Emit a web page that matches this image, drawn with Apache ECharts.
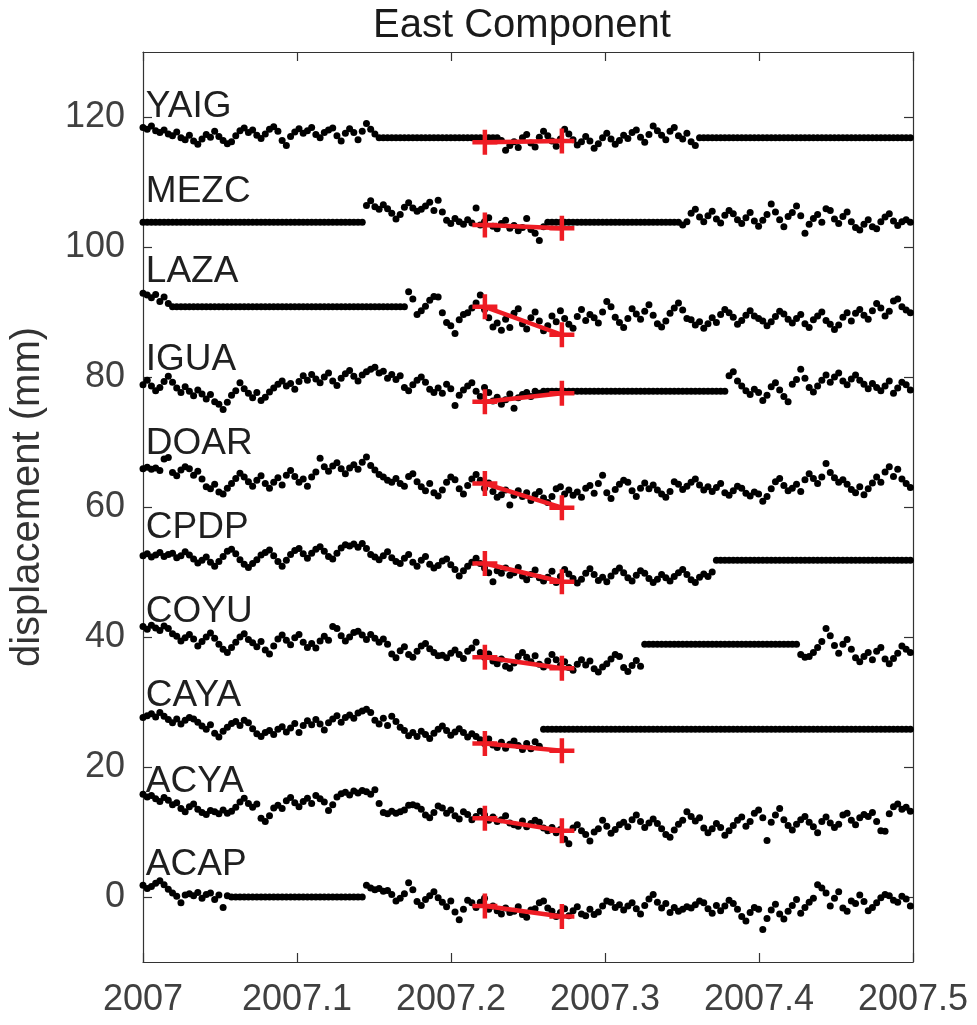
<!DOCTYPE html>
<html>
<head>
<meta charset="utf-8">
<script src="https://cdn.jsdelivr.net/npm/echarts@6/dist/echarts.min.js"></script>
<style>html,body{margin:0;padding:0;background:#fff}#c{width:977px;height:1025px}</style>
</head>
<body>
<div id="c"></div>
<script>
// ---- data ----
const T0 = 2007;
const DAYS_PER_YEAR = 365.25;
const stations = ['YAIG','MEZC','LAZA','IGUA','DOAR','CPDP','COYU','CAYA','ACYA','ACAP'];
const xTicks = [2007, 2007.1, 2007.2, 2007.3, 2007.4, 2007.5];
const yTicks = [0, 20, 40, 60, 80, 100, 120];

const YAIG = [118.4,118.1,118.6,117.9,117.6,118.0,117.4,117.1,117.7,116.8,
116.5,117.2,116.3,115.8,116.6,117.3,116.9,117.8,117.0,116.4,
115.9,116.2,117.1,117.9,118.3,117.6,118.0,117.2,116.7,117.4,
118.1,118.5,117.8,116.4,115.6,117.0,117.7,118.2,117.5,117.9,
118.4,117.3,116.8,117.6,118.0,118.3,117.1,116.3,117.5,118.2,
117.6,116.5,117.8,119.0,118.1,117.4,
116.8,116.8,116.8,116.8,116.8,116.8,116.8,116.8,116.8,116.8,
116.8,116.8,116.8,116.8,116.8,116.8,116.8,116.8,116.8,116.8,
116.8,116.8,116.8,116.8,116.8,116.8,116.8,116.8,116.8,
116.4,114.9,115.6,116.2,115.3,116.8,117.3,116.0,115.4,116.9,
117.8,117.1,116.3,115.5,116.6,118.1,117.4,116.5,115.7,116.2,
117.0,116.3,115.2,115.9,116.8,117.5,116.6,115.8,116.4,117.2,
116.7,117.6,118.0,116.9,116.1,117.3,118.6,117.9,117.2,116.5,
117.8,118.4,117.1,116.6,117.5,116.2,115.6,
116.8,116.8,116.8,116.8,116.8,116.8,116.8,116.8,116.8,116.8,
116.8,116.8,116.8,116.8,116.8,116.8,116.8,116.8,116.8,116.8,
116.8,116.8,116.8,116.8,116.8,116.8,116.8,116.8,116.8,116.8,
116.8,116.8,116.8,116.8,116.8,116.8,116.8,116.8,116.8,116.8,
116.8,116.8,116.8,116.8,116.8,116.8,116.8,116.8,116.8,116.8,
116.8];

const MEZC = [103.8,103.8,103.8,103.8,103.8,103.8,103.8,103.8,103.8,103.8,
103.8,103.8,103.8,103.8,103.8,103.8,103.8,103.8,103.8,103.8,
103.8,103.8,103.8,103.8,103.8,103.8,103.8,103.8,103.8,103.8,
103.8,103.8,103.8,103.8,103.8,103.8,103.8,103.8,103.8,103.8,
103.8,103.8,103.8,103.8,103.8,103.8,103.8,103.8,103.8,103.8,
103.8,103.8,103.8,
106.4,107.1,106.2,105.8,106.5,105.9,105.2,104.3,105.0,106.1,
106.8,106.0,105.5,105.8,106.3,106.9,105.6,107.2,105.4,104.1,
103.6,104.4,103.9,103.5,104.2,103.7,106.0,103.4,103.9,104.5,
103.2,102.8,103.6,104.1,102.9,103.3,102.5,103.0,104.4,102.7,
102.1,101.0,103.1,
103.8,103.8,103.8,103.8,103.8,103.8,103.8,103.8,103.8,103.8,
103.8,103.8,103.8,103.8,103.8,103.8,103.8,103.8,103.8,103.8,
103.8,103.8,103.8,103.8,103.8,103.8,103.8,103.8,103.8,103.8,
103.8,103.8,
103.4,103.9,105.2,105.8,104.6,103.9,104.8,105.5,104.3,103.7,
104.9,105.6,105.1,104.2,103.6,104.5,105.3,104.0,103.2,104.1,
105.0,106.6,105.4,104.2,103.1,104.7,105.3,106.3,104.8,102.1,
103.5,104.4,105.0,103.8,105.9,105.6,104.3,103.6,104.7,105.4,
103.9,103.0,102.6,103.5,104.2,103.1,102.8,103.9,104.6,105.1,
104.0,103.3,103.9,104.2,103.8];

const LAZA = [92.9,92.6,92.2,92.7,91.6,92.3,91.3,
90.8,90.8,90.8,90.8,90.8,90.8,90.8,90.8,90.8,90.8,
90.8,90.8,90.8,90.8,90.8,90.8,90.8,90.8,90.8,90.8,
90.8,90.8,90.8,90.8,90.8,90.8,90.8,90.8,90.8,90.8,
90.8,90.8,90.8,90.8,90.8,90.8,90.8,90.8,90.8,90.8,
90.8,90.8,90.8,90.8,90.8,90.8,90.8,90.8,90.8,90.8,
90.8,90.8,90.8,90.8,90.8,90.8,
93.1,92.0,89.6,90.2,90.9,91.8,92.4,92.3,89.9,88.4,
87.9,86.7,88.8,89.6,89.9,90.6,91.4,92.6,90.4,89.1,
87.7,88.3,87.2,88.9,87.6,89.8,90.5,88.2,87.4,89.1,
90.0,88.6,87.1,87.9,89.4,88.5,90.2,89.0,88.1,87.5,
89.3,90.4,88.7,89.6,89.1,88.3,90.0,91.6,90.8,89.2,
88.4,87.6,89.0,90.5,89.7,88.9,90.1,91.1,89.5,88.2,
87.7,88.6,89.8,90.6,91.4,90.3,89.0,88.8,88.0,88.5,
87.5,88.2,89.1,88.4,89.6,90.4,89.9,89.2,88.1,88.7,
89.5,90.2,89.4,89.0,88.6,87.9,88.5,89.3,90.1,89.7,
88.9,88.3,89.0,89.6,88.2,87.6,88.8,89.4,90.0,88.7,
88.1,87.3,88.0,89.2,89.9,88.6,89.8,90.4,89.5,88.9,
90.2,91.3,90.6,89.4,90.1,91.7,92.0,90.8,90.3,89.9];

const IGUA = [78.8,79.5,78.6,77.9,78.4,79.3,80.1,79.2,78.3,77.6,
78.5,77.8,77.1,78.0,77.4,76.6,77.3,76.2,75.8,75.0,
76.1,77.2,77.9,79.1,78.2,77.5,76.8,77.6,76.4,76.9,
77.7,78.3,78.9,79.4,78.6,79.0,78.1,79.3,80.2,79.5,
80.4,79.7,79.1,80.0,80.6,79.4,78.7,79.8,80.5,81.0,
80.1,79.4,80.3,80.8,81.2,81.5,80.6,80.9,79.8,80.4,
79.6,80.2,78.4,77.9,78.8,79.5,80.0,79.2,78.1,77.6,
78.3,77.5,78.9,78.2,75.6,77.2,78.0,78.6,79.1,77.8,
77.0,78.4,77.6,76.3,76.9,75.8,76.5,77.4,75.2,76.8,
77.3,77.6,77.0,77.8,77.5,
77.8,77.8,77.8,77.8,77.8,77.8,77.8,77.8,77.8,77.8,
77.8,77.8,77.8,77.8,77.8,77.8,77.8,77.8,77.8,77.8,
77.8,77.8,77.8,77.8,77.8,77.8,77.8,77.8,77.8,77.8,
77.8,77.8,77.8,77.8,77.8,77.8,77.8,77.8,77.8,77.8,
77.8,77.8,77.8,77.8,
80.2,80.8,79.4,78.6,77.9,77.3,78.1,77.6,76.4,77.2,
78.5,79.1,78.0,77.0,76.2,78.9,79.6,81.2,79.8,78.4,
77.7,78.6,79.5,80.3,79.2,80.0,80.6,79.4,78.8,79.7,
80.3,79.5,78.9,78.2,79.0,78.4,77.9,78.6,79.4,77.5,
78.3,79.2,78.8,78.0];

const DOAR = [65.9,66.1,65.8,66.0,65.6,67.4,67.6,65.3,64.8,65.7,
66.2,65.9,64.9,65.5,64.3,63.1,62.8,63.5,62.3,62.0,
62.9,63.6,64.4,65.2,64.6,63.9,63.2,64.1,64.8,63.6,
62.9,63.8,64.5,63.4,64.9,65.6,64.7,63.8,64.3,63.2,
64.6,65.4,67.5,66.2,65.5,66.3,66.8,65.9,65.1,66.0,
66.5,65.8,66.9,67.7,66.4,65.7,65.0,64.6,64.1,63.8,
64.4,63.6,63.2,64.7,65.1,63.9,63.1,62.5,63.6,62.2,
61.7,62.6,63.8,64.6,64.2,62.8,62.0,63.3,64.3,65.0,
64.1,62.9,63.7,62.4,61.5,61.9,62.6,60.3,61.8,62.5,
61.6,62.2,61.0,61.9,62.4,61.4,60.7,61.6,62.8,63.1,
62.0,62.6,61.8,62.3,61.5,62.9,63.3,62.1,63.6,64.9,
62.2,61.3,62.7,63.5,64.1,63.8,62.5,61.6,62.9,63.7,
62.8,63.4,62.6,62.0,61.5,62.4,63.9,63.5,62.7,63.2,
63.8,64.3,63.4,62.6,63.1,62.4,63.0,63.6,62.2,61.8,
62.5,63.2,62.9,62.1,61.7,62.3,62.0,60.9,61.6,62.8,
63.9,64.4,63.3,62.5,62.9,63.5,62.4,64.2,65.1,64.4,
63.6,64.6,66.7,65.3,64.5,63.8,64.2,63.5,62.7,62.2,
63.1,61.9,62.8,63.7,64.6,63.8,65.4,66.2,64.7,65.8,
64.3,63.6,63.0];

const CPDP = [52.5,52.8,52.3,52.6,53.0,52.4,52.7,52.9,52.2,52.5,
53.1,52.6,52.0,51.4,51.8,52.3,51.5,50.9,51.6,52.4,
53.2,53.5,52.8,51.9,51.2,50.7,51.3,51.9,52.6,53.0,
53.4,52.5,51.6,50.9,51.8,52.7,53.3,53.6,52.8,52.1,
52.9,53.5,53.9,53.2,52.4,52.0,52.9,53.7,54.2,54.0,
54.3,53.8,54.4,53.6,52.7,52.3,51.9,52.5,53.1,52.2,
51.6,51.3,52.1,52.7,51.5,50.9,51.8,52.4,51.2,50.6,
51.0,51.7,52.0,51.1,50.4,49.4,50.2,50.9,51.5,52.1,
51.3,50.6,49.9,48.5,50.2,49.8,50.6,49.5,49.9,50.7,
49.4,48.8,49.6,50.3,49.1,48.6,49.2,50.1,48.4,49.3,
50.4,49.7,49.0,48.3,48.9,49.8,50.5,49.6,48.7,49.2,
48.5,49.4,50.1,50.6,49.9,49.1,48.6,49.5,50.2,49.8,
49.0,48.4,48.9,49.6,49.1,48.6,49.3,49.9,50.4,49.6,
48.8,48.4,49.2,49.7,49.3,50.0,
51.8,51.8,51.8,51.8,51.8,51.8,51.8,51.8,51.8,51.8,
51.8,51.8,51.8,51.8,51.8,51.8,51.8,51.8,51.8,51.8,
51.8,51.8,51.8,51.8,51.8,51.8,51.8,51.8,51.8,51.8,
51.8,51.8,51.8,51.8,51.8,51.8,51.8,51.8,51.8,51.8,
51.8,51.8,51.8,51.8,51.8,51.8,51.8];

const COYU = [41.6,41.2,41.8,41.4,41.0,41.7,41.3,40.5,40.1,39.4,
39.9,40.4,39.7,38.6,39.3,40.0,40.6,39.8,38.9,38.1,
37.6,38.4,39.2,40.0,40.5,39.6,39.1,38.5,39.3,38.0,
37.4,38.6,39.7,40.3,39.5,38.8,39.9,40.4,39.2,38.4,
39.0,38.3,39.4,40.1,39.5,41.6,41.3,40.2,39.4,40.0,
40.7,40.9,40.3,39.6,40.4,39.8,39.2,39.7,38.9,37.4,
36.8,37.9,38.5,37.3,36.9,37.8,38.6,39.0,38.2,37.6,
37.1,37.2,36.8,37.5,38.0,37.3,36.7,37.8,38.3,39.2,
37.6,36.9,37.4,36.3,35.9,36.6,35.5,35.2,36.0,37.0,
37.6,36.9,36.2,37.1,35.8,35.4,36.3,37.3,36.5,35.6,
36.2,35.3,34.9,35.8,36.5,35.7,36.3,35.1,34.6,35.4,
35.9,36.6,37.3,37.0,35.3,34.7,35.6,36.4,35.5,
38.9,38.9,38.9,38.9,38.9,38.9,38.9,38.9,38.9,38.9,
38.9,38.9,38.9,38.9,38.9,38.9,38.9,38.9,38.9,38.9,
38.9,38.9,38.9,38.9,38.9,38.9,38.9,38.9,38.9,38.9,
38.9,38.9,38.9,38.9,38.9,38.9,38.9,
37.3,36.9,37.0,37.6,38.4,39.3,41.3,40.2,38.7,37.5,
38.9,39.6,38.1,36.8,36.2,37.0,37.6,36.5,37.8,38.4,
36.6,35.9,36.7,37.5,38.6,38.1,37.6];

const CAYA = [27.6,27.9,28.2,27.7,28.4,27.8,27.3,26.8,27.4,26.6,
27.2,27.6,27.4,26.9,26.3,25.8,26.5,25.2,24.6,25.5,
26.1,26.7,27.0,26.4,27.2,26.8,25.9,25.1,24.7,25.3,
25.6,25.0,25.8,26.2,25.4,26.0,26.7,25.3,26.4,27.1,
26.5,27.3,26.6,25.7,26.8,27.4,27.9,26.9,27.6,28.0,
27.5,28.3,28.6,28.9,28.4,27.2,26.6,27.5,26.4,27.8,
27.0,26.1,25.6,24.8,25.3,24.7,25.5,25.0,24.4,25.2,
25.8,26.3,25.6,24.9,25.4,25.9,25.3,24.6,25.1,24.7,
24.2,23.6,24.3,23.4,23.0,23.8,22.9,23.5,24.0,23.3,
22.7,23.6,22.8,23.9,23.2,
25.8,25.8,25.8,25.8,25.8,25.8,25.8,25.8,25.8,25.8,
25.8,25.8,25.8,25.8,25.8,25.8,25.8,25.8,25.8,25.8,
25.8,25.8,25.8,25.8,25.8,25.8,25.8,25.8,25.8,25.8,
25.8,25.8,25.8,25.8,25.8,25.8,25.8,25.8,25.8,25.8,
25.8,25.8,25.8,25.8,25.8,25.8,25.8,25.8,25.8,25.8,
25.8,25.8,25.8,25.8,25.8,25.8,25.8,25.8,25.8,25.8,
25.8,25.8,25.8,25.8,25.8,25.8,25.8,25.8,25.8,25.8,
25.8,25.8,25.8,25.8,25.8,25.8,25.8,25.8,25.8,25.8,
25.8,25.8,25.8,25.8,25.8,25.8,25.8,25.8];

const ACYA = [15.8,15.4,15.6,15.1,14.7,15.3,14.9,14.2,14.5,13.6,
13.1,13.9,14.3,13.5,13.0,12.7,13.3,13.1,12.8,13.4,
12.9,13.2,13.8,14.6,15.2,14.4,13.8,14.3,12.1,11.6,
12.5,13.7,14.1,13.6,14.8,15.3,14.5,13.9,14.7,15.2,
14.4,15.6,15.1,14.6,13.3,14.2,15.4,15.9,16.1,15.7,
16.3,16.0,16.4,16.2,15.8,16.5,14.4,13.0,12.8,13.2,
12.9,13.1,13.4,14.1,14.2,14.0,13.5,12.6,12.2,13.0,
14.0,13.7,12.9,13.4,12.5,12.0,13.1,12.7,11.9,12.4,
13.2,12.6,11.8,12.3,11.6,11.9,12.5,11.4,11.1,10.9,
11.7,10.8,11.3,11.8,11.5,10.6,10.2,10.7,9.9,10.4,
8.9,8.2,10.6,11.1,10.2,9.6,8.6,10.0,10.5,11.8,
10.9,9.8,10.4,11.1,11.5,10.8,11.9,12.6,11.6,10.7,
11.4,12.0,11.3,10.5,9.6,9.2,10.3,11.2,11.8,13.1,
12.4,11.7,12.2,10.6,9.9,10.5,11.3,10.7,9.5,10.2,
11.0,11.8,12.3,10.9,11.6,12.9,13.4,12.2,8.7,11.5,
12.6,13.6,11.9,11.0,10.3,11.2,11.9,12.4,11.5,10.8,
9.9,11.6,12.3,11.4,10.7,11.2,12.6,12.9,11.8,11.1,
12.2,12.7,12.4,13.0,11.6,10.2,10.1,12.8,13.9,14.3,
13.5,13.8,13.2];

const ACAP = [1.8,1.3,1.6,2.1,2.5,1.9,1.2,0.6,0.1,-0.9,
0.3,0.5,0.2,0.7,-0.2,0.4,0.6,-0.4,0.3,-1.6,
0.2,
0.0,0.0,0.0,0.0,0.0,0.0,0.0,0.0,0.0,0.0,
0.0,0.0,0.0,0.0,0.0,0.0,0.0,0.0,0.0,0.0,
0.0,0.0,0.0,0.0,0.0,0.0,0.0,0.0,0.0,0.0,
0.0,0.0,
1.8,1.4,1.1,1.3,0.9,1.0,0.4,-0.6,-0.2,0.5,
2.2,1.1,-0.7,-1.3,-0.4,0.2,0.8,-0.1,-0.8,-1.5,
-0.6,-2.3,-3.5,-1.9,-0.5,-0.9,-1.6,-0.8,-0.2,-1.9,
-1.4,-2.1,-2.6,-1.7,-2.4,-2.2,-1.5,-2.7,-3.1,-2.0,
-1.8,-0.9,-0.6,-1.7,-2.2,-3.0,-2.4,-1.8,-2.9,-2.1,
-1.5,-2.6,-2.9,-1.9,-2.7,-2.3,-1.4,-0.6,-0.8,-1.6,
-1.2,-2.0,-1.4,-0.9,-1.8,-2.6,-1.3,-0.3,0.4,-0.8,
-1.7,-1.0,-2.4,-1.6,-2.2,-1.9,-1.5,-1.7,-1.2,-0.6,
-0.9,-1.8,-2.5,-1.3,-2.1,-1.4,-0.5,-1.0,-1.9,-3.0,
-3.7,-2.4,-1.6,-1.9,-5.0,-3.3,-2.0,-1.1,-2.6,-3.4,
-2.2,-1.3,-0.4,-2.5,-1.6,-0.8,-0.2,1.9,1.4,0.6,
-1.4,-0.2,0.8,-1.7,-2.2,-0.6,-1.0,0.3,-0.7,-2.1,
-1.6,-0.9,-0.1,0.4,0.2,-0.5,-0.8,0.1,-0.3,-1.4];

const seriesValues = [YAIG, MEZC, LAZA, IGUA, DOAR, CPDP, COYU, CAYA, ACYA, ACAP];

// red offset lines: value at start and end epoch
const redTimes = [2007.222, 2007.272];
const redStart = [116.1, 103.4, 90.8, 76.2, 63.6, 51.3, 36.9, 23.6, 12.1, -1.4];
const redEnd   = [116.3, 102.9, 86.5, 77.5, 59.9, 48.5, 35.2, 22.5, 10.2, -3.0];

// station name label anchor positions
const labelX = 2007.0015;
const labelY = [121.6, 108.5, 96.2, 82.6, 69.8, 56.8, 43.9, 30.9, 17.8, 4.9];

// ---- chart ----
const FONT = 'Liberation Sans, Arial, Helvetica, sans-serif';
const AX = '#333333';
const chart = echarts.init(document.getElementById('c'), null, {renderer: 'canvas'});

const series = [];
seriesValues.forEach((vals, k) => {
  series.push({
    name: stations[k],
    type: 'scatter',
    symbol: 'circle',
    symbolSize: 7,
    itemStyle: {color: '#000000', opacity: 1},
    silent: true,
    data: vals.map((v, i) => [T0 + i / DAYS_PER_YEAR, v])
  });
});
seriesValues.forEach((vals, k) => {
  series.push({
    name: stations[k] + ' offset',
    type: 'line',
    z: 5,
    symbol: 'path://M0,8.2H8.2V0H11.8V8.2H20V11.8H11.8V20H8.2V11.8H0Z',
    symbolSize: 25,
    showAllSymbol: true,
    lineStyle: {color: '#ee1c24', width: 4.5},
    itemStyle: {color: '#ee1c24', opacity: 1},
    silent: true,
    data: [[redTimes[0], redStart[k]], [redTimes[1], redEnd[k]]]
  });
});
series.push({
  type: 'scatter',
  symbolSize: 1,
  itemStyle: {color: '#ffffff', opacity: 1},
  silent: true,
  z: 6,
  label: {
    show: true, position: 'right', distance: 0, formatter: '{b}', opacity: 1,
    fontFamily: FONT, fontSize: 37, color: '#1f1f1f'
  },
  data: stations.map((s, i) => ({name: s, value: [labelX, labelY[i]]}))
});

const xFmt = v => String(Number(v.toFixed(1)));
const axisLineStyle = {show: true, onZero: false, lineStyle: {color: AX, width: 1.2}};
const tickStyle = {show: true, inside: true, length: 9, lineStyle: {color: AX, width: 1.2}};

chart.setOption({
  animation: false,
  backgroundColor: '#ffffff',
  title: {
    text: 'East Component', left: 517, top: 1, textAlign: 'center',
    textStyle: {fontFamily: FONT, fontSize: 40, fontWeight: 'normal', color: '#1a1a1a'}
  },
  grid: {left: 143, right: 64, top: 52, bottom: 63, containLabel: false},
  xAxis: [{
    type: 'value', min: 2007, max: 2007.5, interval: 0.1, position: 'bottom',
    axisLine: axisLineStyle, axisTick: tickStyle, splitLine: {show: false},
    axisLabel: {margin: 20, fontFamily: FONT, fontSize: 36, color: '#404040', formatter: xFmt,
      showMinLabel: true, showMaxLabel: true}
  }, {
    type: 'value', min: 2007, max: 2007.5, interval: 0.1, position: 'top',
    axisLine: axisLineStyle, axisTick: tickStyle, splitLine: {show: false},
    axisLabel: {show: false}
  }],
  yAxis: [{
    type: 'value', min: -10, max: 130, splitNumber: 7, position: 'left',
    axisLine: axisLineStyle, splitLine: {show: false},
    axisTick: Object.assign({customValues: yTicks}, tickStyle),
    axisLabel: {customValues: yTicks, margin: 18, fontFamily: FONT, fontSize: 36, color: '#404040',
      formatter: v => (yTicks.indexOf(v) >= 0 ? String(v) : '')},
    name: 'displacement (mm)', nameLocation: 'middle', nameGap: 95,
    nameTextStyle: {fontFamily: FONT, fontSize: 40, color: '#333333', padding: [0, 0, 0, 20]}
  }, {
    type: 'value', min: -10, max: 130, splitNumber: 7, position: 'right',
    axisLine: axisLineStyle, splitLine: {show: false},
    axisTick: Object.assign({customValues: yTicks}, tickStyle),
    axisLabel: {show: false}
  }],
  series: series
});
</script>
</body>
</html>
